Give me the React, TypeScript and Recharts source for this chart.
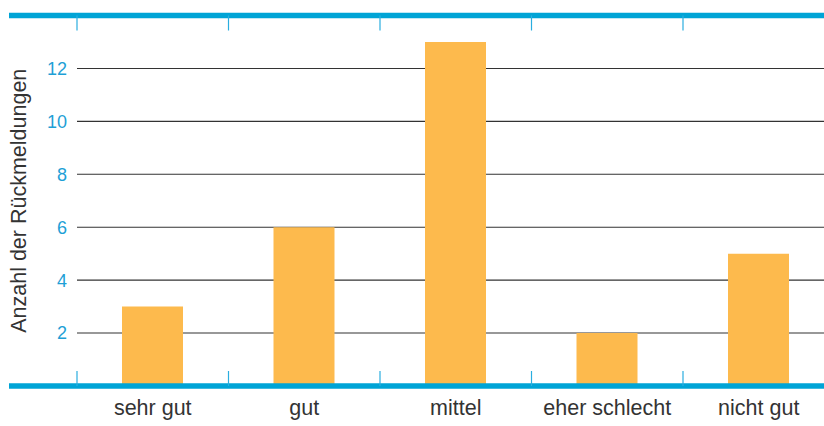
import React from 'react';
import { BarChart, Bar, XAxis, YAxis, CartesianGrid, ReferenceLine } from 'recharts';

const categories = ['sehr gut', 'gut', 'mittel', 'eher schlecht', 'nicht gut'];
const counts = [3, 6, 13, 2, 5];
const yTicks = [2, 4, 6, 8, 10, 12];

const data = categories.map((name, i) => ({ name, value: counts[i] }));

const BLUE = '#00A4D6';
const TICK_BLUE = '#2AAEE0';
const BAR = '#FDBA4D';
const FONT = '"Liberation Sans", Arial, sans-serif';

// thick blue frame line, runs a bit left of the plot
const frameLine = (props: any) => (
  <line
    x1={props.x1 - 68}
    y1={props.y1}
    x2={props.x2}
    y2={props.y2}
    stroke={BLUE}
    strokeWidth={5.5}
  />
);

// short ticks hanging from the top and bottom frame lines at band edges
const bandTick = (props: any) => {
  const top = Math.min(props.y1, props.y2);
  const bottom = Math.max(props.y1, props.y2);
  return (
    <g>
      <line x1={props.x1} x2={props.x1} y1={top} y2={top + 15} stroke={TICK_BLUE} strokeWidth={1.2} />
      <line x1={props.x1} x2={props.x1} y1={bottom - 15} y2={bottom} stroke={TICK_BLUE} strokeWidth={1.2} />
    </g>
  );
};

const YTitle = (props: any) => {
  const vb = props.viewBox;
  const x = 25.5;
  const y = vb.y + vb.height / 2;
  return (
    <text
      x={x}
      y={y}
      transform={`rotate(-90, ${x}, ${y})`}
      textAnchor="middle"
      fill="#333"
      style={{ fontSize: 21.5, fontFamily: FONT }}
    >
      Anzahl der Rückmeldungen
    </text>
  );
};

export default function App() {
  return (
    <div style={{ position: 'fixed', top: 0, left: 0, width: 824, height: 426, overflow: 'hidden', background: '#fff' }}>
      <BarChart width={834.5} height={426} data={data} margin={{ top: 15.5, right: 0, bottom: 0, left: 0 }}>
        <CartesianGrid horizontal vertical={false} stroke="#333" strokeWidth={1.1} />
        <XAxis
          dataKey="name"
          axisLine={false}
          tickLine={false}
          height={40}
          tickMargin={8}
          tick={{ fill: '#333', fontSize: 21.5, fontFamily: FONT }}
        />
        <YAxis
          domain={[0, 14]}
          ticks={yTicks}
          width={77}
          axisLine={false}
          tickLine={false}
          tickMargin={4}
          tick={{ fill: '#1E9FD6', fontSize: 18, fontFamily: FONT }}
          label={{ content: YTitle }}
        />
        <Bar dataKey="value" fill={BAR} barSize={61} isAnimationActive={false} />
        <ReferenceLine y={14} shape={frameLine} />
        <ReferenceLine y={0} shape={frameLine} />
        {categories.map((c) => (
          <ReferenceLine key={c} x={c} position="start" shape={bandTick} />
        ))}
      </BarChart>
    </div>
  );
}
